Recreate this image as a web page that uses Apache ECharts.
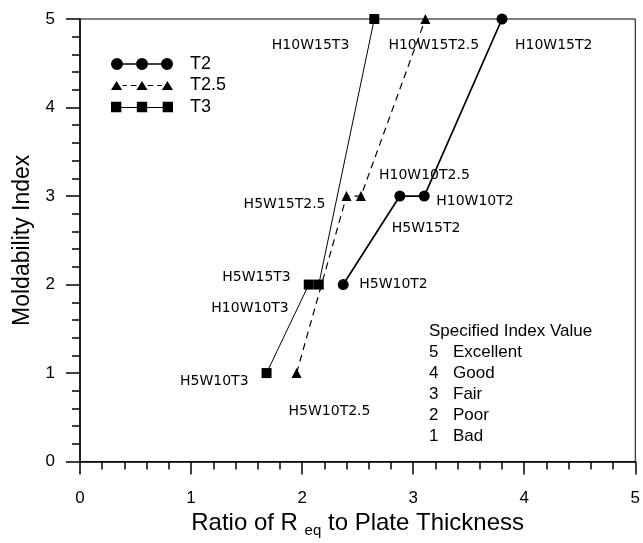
<!DOCTYPE html>
<html>
<head>
<meta charset="utf-8">
<script src="https://cdn.jsdelivr.net/npm/echarts@6/dist/echarts.min.js"></script>
<style>
html,body{margin:0;padding:0;background:#fff;}
#main{width:643px;height:543px;}
</style>
</head>
<body>
<div id="main"></div>
<script>
// data
var xTicks = [0, 1, 2, 3, 4, 5];
var yTicks = [0, 1, 2, 3, 4, 5];

var t2X = [2.37, 2.88, 3.10, 3.80];
var t2Y = [2, 3, 3, 5];
var t2Names = ['H5W10T2', 'H5W15T2', 'H10W10T2', 'H10W15T2'];

var t25X = [1.95, 2.40, 2.53, 3.11];
var t25Y = [1, 3, 3, 5];
var t25Names = ['H5W10T2.5', 'H5W15T2.5', 'H10W10T2.5', 'H10W15T2.5'];

var t3X = [1.68, 2.06, 2.15, 2.65];
var t3Y = [1, 2, 2, 5];
var t3Names = ['H5W10T3', 'H5W15T3', 'H10W10T3', 'H10W15T3'];

var indexValues = ['5', '4', '3', '2', '1'];
var indexWords = ['Excellent', 'Good', 'Fair', 'Poor', 'Bad'];

// where each point label sits (align, dx, dy from point centre)
var labelPlace = {
	'H5W10T2':   ['left', 16, 0],
	'H5W15T2':   ['left', -8, 32],
	'H10W10T2':  ['left', 12, 5],
	'H10W15T2':  ['left', 13, 26],
	'H5W10T2.5': ['left', -8, 38],
	'H5W15T2.5': ['right', -21, 8],
	'H10W10T2.5':['left', 18, -21],
	'H10W15T2.5':['left', -37, 26],
	'H5W10T3':   ['right', -18, 8],
	'H5W15T3':   ['right', -18, -7],
	'H10W10T3':  ['right', -30, 24],
	'H10W15T3':  ['right', -25, 26]
};

function buildData(xs, ys, names){
	var arr = [];
	for (var i = 0; i < xs.length; i++){
		var p = labelPlace[names[i]];
		arr.push({
			name: names[i],
			value: [xs[i], ys[i]],
			label: {
				show: true,
				position: 'inside',
				align: p[0],
				verticalAlign: 'middle',
				offset: [p[1], p[2]],
				formatter: '{b}'
			}
		});
	}
	return arr;
}

var iconCircles = 'path://M0,6A6,6,0,1,1,12,6A6,6,0,1,1,0,6Z' +
	'M12,5.3L25,5.3L25,6.7L12,6.7Z' +
	'M25,6A6,6,0,1,1,37,6A6,6,0,1,1,25,6Z' +
	'M37,5.3L50,5.3L50,6.7L37,6.7Z' +
	'M50,6A6,6,0,1,1,62,6A6,6,0,1,1,50,6Z';
var iconTriangles = 'path://M0.5,11L6,2L11.5,11Z' +
	'M12,6L16,6L16,7L12,7Z' +
	'M20,6L25.5,6L25.5,7L20,7Z' +
	'M25.5,11L31,2L36.5,11Z' +
	'M36.5,6L42,6L42,7L36.5,7Z' +
	'M46,6L50.5,6L50.5,7L46,7Z' +
	'M50.5,11L56,2L61.5,11Z';
var iconSquares = 'path://M1,1L11,1L11,11L1,11Z' +
	'M11,6L26,6L26,7L11,7Z' +
	'M26,1L36,1L36,11L26,11Z' +
	'M36,6L51,6L51,7L36,7Z' +
	'M51,1L61,1L61,11L51,11Z';

var indexText = 'Specified Index Value';
for (var k = 0; k < indexValues.length; k++){
	indexText += '\n{n|' + indexValues[k] + '}{w|' + indexWords[k] + '}';
}

var labelFont = {fontFamily: 'DejaVu Sans', fontSize: 14, color: '#000'};

var myChart = echarts.init(document.getElementById('main'), null, {renderer: 'canvas'});
var option = {
	backgroundColor: '#fff',
	animation: false,
	textStyle: {fontFamily: 'Liberation Sans', color: '#000'},
	title: {
		text: indexText,
		left: 429,
		top: 321,
		padding: 0,
		textStyle: {
			fontFamily: 'Liberation Sans',
			fontSize: 17,
			fontWeight: 'normal',
			lineHeight: 21,
			color: '#000',
			rich: {
				n: {fontFamily: 'Liberation Sans', fontSize: 17, lineHeight: 21, width: 24, color: '#000'},
				w: {fontFamily: 'Liberation Sans', fontSize: 17, lineHeight: 21, color: '#000'}
			}
		}
	},
	legend: {
		orient: 'vertical',
		left: 111,
		top: 55,
		padding: 0,
		itemWidth: 62,
		itemHeight: 12,
		itemGap: 3.5,
		selectedMode: false,
		textStyle: {fontFamily: 'Liberation Sans', fontSize: 18, lineHeight: 18, color: '#000', padding: [0, 0, 0, 12]},
		data: [
			{name: 'T2', icon: iconCircles},
			{name: 'T2.5', icon: iconTriangles},
			{name: 'T3', icon: iconSquares}
		]
	},
	grid: {
		left: 80, right: 5, top: 19, bottom: 78,
		show: true,
		borderColor: '#000',
		borderWidth: 1,
		backgroundColor: 'transparent'
	},
	xAxis: {
		type: 'value',
		min: xTicks[0],
		max: xTicks[xTicks.length - 1],
		interval: 1,
		name: 'Ratio of R {sub|eq} to Plate Thickness',
		nameLocation: 'middle',
		nameGap: 45,
		nameTextStyle: {
			fontFamily: 'Liberation Sans', fontSize: 24, color: '#000',
			rich: {
				sub: {fontFamily: 'Liberation Sans', fontSize: 15, color: '#000', verticalAlign: 'top', padding: [14, 0, 0, 0]}
			}
		},
		axisLine: {lineStyle: {color: '#000', width: 1.5}},
		axisTick: {length: 13, lineStyle: {color: '#000', width: 1.5}},
		minorTick: {show: true, splitNumber: 5, length: 8, lineStyle: {color: '#000', width: 1.5}},
		axisLabel: {margin: 28, fontFamily: 'Liberation Sans', fontSize: 17, color: '#000'},
		splitLine: {show: false}
	},
	yAxis: {
		type: 'value',
		min: yTicks[0],
		max: yTicks[yTicks.length - 1],
		interval: 1,
		name: 'Moldability Index',
		nameLocation: 'middle',
		nameGap: 46,
		nameTextStyle: {fontFamily: 'Liberation Sans', fontSize: 23, color: '#000'},
		axisLine: {lineStyle: {color: '#000', width: 1.5}},
		axisTick: {length: 14, lineStyle: {color: '#000', width: 1.5}},
		minorTick: {show: true, splitNumber: 5, length: 8, lineStyle: {color: '#000', width: 1.5}},
		axisLabel: {margin: 25, fontFamily: 'Liberation Sans', fontSize: 17, color: '#000'},
		splitLine: {show: false}
	},
	series: [
		{
			name: 'T2',
			type: 'line',
			data: buildData(t2X, t2Y, t2Names),
			symbol: 'circle',
			symbolSize: 11,
			lineStyle: {color: '#000', width: 1.7},
			itemStyle: {color: '#000'},
			label: labelFont
		},
		{
			name: 'T2.5',
			type: 'line',
			data: buildData(t25X, t25Y, t25Names),
			symbol: 'triangle',
			symbolSize: 10,
			lineStyle: {color: '#000', width: 1.2, type: [7, 5]},
			itemStyle: {color: '#000'},
			label: labelFont
		},
		{
			name: 'T3',
			type: 'line',
			data: buildData(t3X, t3Y, t3Names),
			symbol: 'rect',
			symbolSize: 10,
			lineStyle: {color: '#000', width: 1},
			itemStyle: {color: '#000'},
			label: labelFont
		}
	]
};
myChart.setOption(option);
</script>
</body>
</html>
